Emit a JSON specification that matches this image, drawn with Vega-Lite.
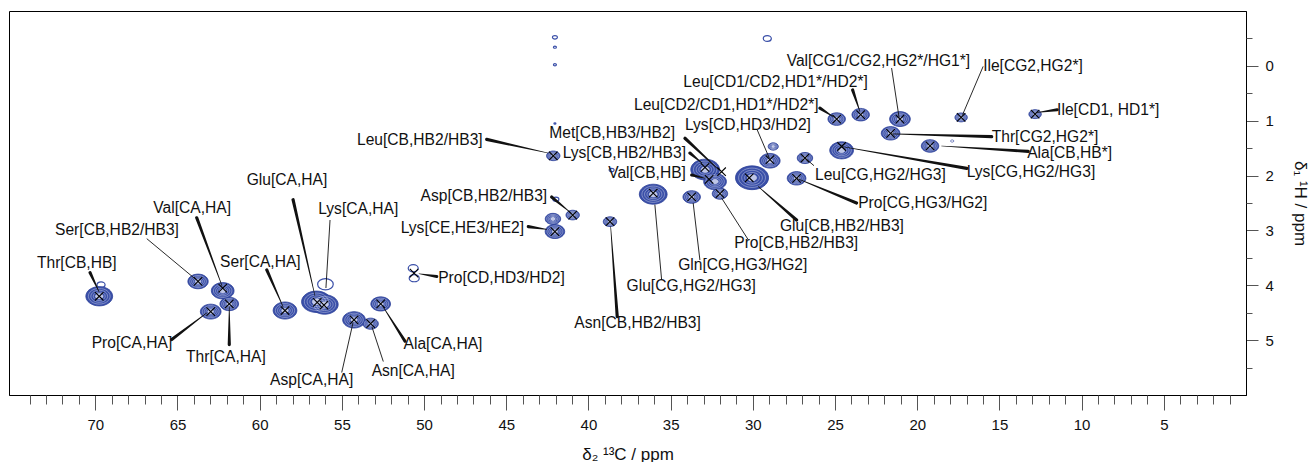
{
 "$schema": "https://vega.github.io/schema/vega-lite/v6.json",
 "width": 1237, "height": 384,
 "padding": {"left": 9, "top": 11, "right": 0, "bottom": 0},
 "background": "white",
 "config": {"view": {"stroke": "black", "strokeWidth": 1}, "font": "Liberation Sans"},
 "datasets": {
  "blobs": [
   {"c": 69.76, "h": 4.20, "w": 1.58}, {"c": 63.75, "h": 3.93, "w": 1.2}, {"c": 62.25, "h": 4.10, "w": 1.34},
   {"c": 62.98, "h": 4.48, "w": 1.22}, {"c": 61.85, "h": 4.34, "w": 1.1}, {"c": 58.46, "h": 4.46, "w": 1.4},
   {"c": 56.55, "h": 4.30, "w": 1.75}, {"c": 56.05, "h": 4.35, "w": 1.6}, {"c": 54.26, "h": 4.63, "w": 1.34},
   {"c": 53.25, "h": 4.70, "w": 0.91}, {"c": 52.64, "h": 4.34, "w": 1.16}, {"c": 42.14, "h": 1.64, "w": 0.79},
   {"c": 32.9, "h": 1.89, "w": 1.7}, {"c": 32.3, "h": 2.11, "w": 1.34}, {"c": 32.0, "h": 2.33, "w": 0.91},
   {"c": 33.72, "h": 2.39, "w": 1.03}, {"c": 36.06, "h": 2.34, "w": 1.64}, {"c": 40.96, "h": 2.72, "w": 0.79},
   {"c": 42.04, "h": 3.02, "w": 1.15}, {"c": 42.16, "h": 2.79, "w": 0.91}, {"c": 38.69, "h": 2.84, "w": 0.79},
   {"c": 28.96, "h": 1.73, "w": 1.2}, {"c": 28.76, "h": 1.47, "w": 0.6}, {"c": 30.05, "h": 2.04, "w": 1.95},
   {"c": 26.83, "h": 1.68, "w": 0.91}, {"c": 27.34, "h": 2.05, "w": 1.1}, {"c": 24.90, "h": 0.97, "w": 1.03},
   {"c": 23.44, "h": 0.89, "w": 1.03}, {"c": 21.05, "h": 0.97, "w": 1.22}, {"c": 21.62, "h": 1.23, "w": 1.1},
   {"c": 24.60, "h": 1.54, "w": 1.4}, {"c": 19.22, "h": 1.46, "w": 1.03}, {"c": 17.33, "h": 0.94, "w": 0.73},
   {"c": 12.83, "h": 0.88, "w": 0.73}, {"c": 17.87, "h": 1.37, "w": 0.18}
  ],
  "loops": [
   {"c": 69.65, "h": 3.99, "w": 0.49}, {"c": 56.0, "h": 3.98, "w": 0.95}, {"c": 50.66, "h": 3.69, "w": 0.61},
   {"c": 50.60, "h": 3.87, "w": 0.61}, {"c": 41.98, "h": 2.43, "w": 0.36}, {"c": 42.04, "h": -0.52, "w": 0.3},
   {"c": 42.04, "h": -0.34, "w": 0.18}, {"c": 42.04, "h": -0.02, "w": 0.18}, {"c": 42.04, "h": 1.05, "w": 0.12},
   {"c": 29.12, "h": -0.50, "w": 0.49}, {"c": 38.59, "h": 1.90, "w": 0.3}
  ],
  "picks": [
   {"c": 69.76, "h": 4.20}, {"c": 63.75, "h": 3.93}, {"c": 62.25, "h": 4.05}, {"c": 62.98, "h": 4.48},
   {"c": 61.85, "h": 4.34}, {"c": 58.46, "h": 4.46}, {"c": 56.50, "h": 4.31}, {"c": 56.09, "h": 4.36},
   {"c": 54.26, "h": 4.63}, {"c": 53.25, "h": 4.70}, {"c": 52.64, "h": 4.34}, {"c": 50.61, "h": 3.78},
   {"c": 42.14, "h": 1.64}, {"c": 31.90, "h": 1.93}, {"c": 32.91, "h": 1.85}, {"c": 32.66, "h": 2.07},
   {"c": 32.00, "h": 2.33}, {"c": 33.72, "h": 2.39}, {"c": 36.06, "h": 2.32}, {"c": 40.96, "h": 2.72},
   {"c": 42.04, "h": 3.02}, {"c": 38.69, "h": 2.84}, {"c": 28.96, "h": 1.71}, {"c": 30.22, "h": 2.04},
   {"c": 26.83, "h": 1.68}, {"c": 27.34, "h": 2.05}, {"c": 24.90, "h": 0.97}, {"c": 23.44, "h": 0.89},
   {"c": 21.05, "h": 0.97}, {"c": 21.62, "h": 1.23}, {"c": 24.60, "h": 1.47}, {"c": 19.22, "h": 1.46},
   {"c": 17.33, "h": 0.94}, {"c": 12.83, "h": 0.88}
  ],
  "labels": [
   {"label": "Thr[CB,HB]", "c": 73.55, "h": 3.59},
   {"label": "Ser[CB,HB2/HB3]", "c": 72.45, "h": 3.00},
   {"label": "Val[CA,HA]", "c": 66.47, "h": 2.59},
   {"label": "Glu[CA,HA]", "c": 60.79, "h": 2.08},
   {"label": "Lys[CA,HA]", "c": 56.44, "h": 2.61},
   {"label": "Ser[CA,HA]", "c": 62.41, "h": 3.57},
   {"label": "Pro[CA,HA]", "c": 70.22, "h": 5.05},
   {"label": "Thr[CA,HA]", "c": 64.48, "h": 5.30},
   {"label": "Asp[CA,HA]", "c": 59.37, "h": 5.72},
   {"label": "Asn[CA,HA]", "c": 53.19, "h": 5.57},
   {"label": "Ala[CA,HA]", "c": 51.25, "h": 5.07},
   {"label": "Pro[CD,HD3/HD2]", "c": 49.14, "h": 3.87},
   {"label": "Leu[CB,HB2/HB3]", "c": 54.08, "h": 1.35},
   {"label": "Met[CB,HB3/HB2]", "c": 42.38, "h": 1.23},
   {"label": "Lys[CB,HB2/HB3]", "c": 41.57, "h": 1.59},
   {"label": "Val[CB,HB]", "c": 38.80, "h": 1.96},
   {"label": "Asp[CB,HB2/HB3]", "c": 50.21, "h": 2.37},
   {"label": "Lys[CE,HE3/HE2]", "c": 51.42, "h": 2.96},
   {"label": "Asn[CB,HB2/HB3]", "c": 40.86, "h": 4.69},
   {"label": "Glu[CG,HG2/HG3]", "c": 37.68, "h": 4.02},
   {"label": "Gln[CG,HG3/HG2]", "c": 34.54, "h": 3.63},
   {"label": "Pro[CB,HB2/HB3]", "c": 31.13, "h": 3.23},
   {"label": "Glu[CB,HB2/HB3]", "c": 28.35, "h": 2.92},
   {"label": "Lys[CD,HD3/HD2]", "c": 34.13, "h": 1.08},
   {"label": "Leu[CD2/CD1,HD1*/HD2*]", "c": 37.23, "h": 0.71},
   {"label": "Leu[CD1/CD2,HD1*/HD2*]", "c": 34.23, "h": 0.30},
   {"label": "Val[CG1/CG2,HG2*/HG1*]", "c": 27.94, "h": -0.09},
   {"label": "Ile[CG2,HG2*]", "c": 15.99, "h": 0.01},
   {"label": "Ile[CD1, HD1*]", "c": 11.49, "h": 0.80},
   {"label": "Thr[CG2,HG2*]", "c": 15.47, "h": 1.29},
   {"label": "Ala[CB,HB*]", "c": 13.31, "h": 1.59},
   {"label": "Lys[CG,HG2/HG3]", "c": 16.99, "h": 1.93},
   {"label": "Leu[CG,HG2/HG3]", "c": 26.22, "h": 1.99},
   {"label": "Pro[CG,HG3/HG2]", "c": 23.59, "h": 2.50}
  ],
  "leaders": [
   {"id": "ThrCB", "kind": "wedge", "end": "label", "c": 70.32, "h": 3.77}, {"id": "ThrCB", "kind": "wedge", "end": "peak", "c": 69.77, "h": 4.12},
   {"id": "SerCB", "kind": "thin", "end": "label", "c": 66.87, "h": 3.15}, {"id": "SerCB", "kind": "thin", "end": "peak", "c": 63.94, "h": 3.88},
   {"id": "ValCA", "kind": "wedge", "end": "label", "c": 63.83, "h": 2.77}, {"id": "ValCA", "kind": "wedge", "end": "peak", "c": 62.29, "h": 4.01},
   {"id": "GluCA", "kind": "wedge", "end": "label", "c": 57.97, "h": 2.44}, {"id": "GluCA", "kind": "wedge", "end": "peak", "c": 56.64, "h": 4.19},
   {"id": "LysCA", "kind": "thin", "end": "label", "c": 55.72, "h": 2.81}, {"id": "LysCA", "kind": "thin", "end": "peak", "c": 55.97, "h": 4.05},
   {"id": "SerCA", "kind": "wedge", "end": "label", "c": 59.57, "h": 3.72}, {"id": "SerCA", "kind": "wedge", "end": "peak", "c": 58.58, "h": 4.39},
   {"id": "ProCA", "kind": "wedge", "end": "label", "c": 65.35, "h": 4.99}, {"id": "ProCA", "kind": "wedge", "end": "peak", "c": 63.21, "h": 4.50},
   {"id": "ThrCA", "kind": "wedge", "end": "label", "c": 61.85, "h": 5.08}, {"id": "ThrCA", "kind": "wedge", "end": "peak", "c": 61.85, "h": 4.39},
   {"id": "AspCA", "kind": "thin", "end": "label", "c": 55.01, "h": 5.59}, {"id": "AspCA", "kind": "thin", "end": "peak", "c": 54.32, "h": 4.68},
   {"id": "AsnCA", "kind": "thin", "end": "label", "c": 52.48, "h": 5.39}, {"id": "AsnCA", "kind": "thin", "end": "peak", "c": 53.17, "h": 4.76},
   {"id": "AlaCA", "kind": "wedge", "end": "label", "c": 51.16, "h": 5.02}, {"id": "AlaCA", "kind": "wedge", "end": "peak", "c": 52.50, "h": 4.39},
   {"id": "ProCD", "kind": "wedge", "end": "label", "c": 49.23, "h": 3.84}, {"id": "ProCD", "kind": "wedge", "end": "peak", "c": 50.31, "h": 3.79},
   {"id": "LeuCB", "kind": "wedge", "end": "label", "c": 46.19, "h": 1.34}, {"id": "LeuCB", "kind": "wedge", "end": "peak", "c": 42.46, "h": 1.59},
   {"id": "MetCB", "kind": "wedge", "end": "label", "c": 34.13, "h": 1.32}, {"id": "MetCB", "kind": "wedge", "end": "peak", "c": 32.06, "h": 1.90},
   {"id": "LysCB", "kind": "wedge", "end": "label", "c": 33.83, "h": 1.59}, {"id": "LysCB", "kind": "wedge", "end": "peak", "c": 33.10, "h": 1.77},
   {"id": "ValCB", "kind": "wedge", "end": "label", "c": 33.72, "h": 1.99}, {"id": "ValCB", "kind": "wedge", "end": "peak", "c": 32.91, "h": 2.05},
   {"id": "AspCB", "kind": "wedge", "end": "label", "c": 42.24, "h": 2.39}, {"id": "AspCB", "kind": "wedge", "end": "peak", "c": 41.07, "h": 2.68},
   {"id": "LysCE", "kind": "wedge", "end": "label", "c": 43.66, "h": 2.93}, {"id": "LysCE", "kind": "wedge", "end": "peak", "c": 42.54, "h": 2.98},
   {"id": "AsnCB", "kind": "wedge", "end": "label", "c": 38.25, "h": 4.57}, {"id": "AsnCB", "kind": "wedge", "end": "peak", "c": 38.65, "h": 2.93},
   {"id": "GluCG", "kind": "thin", "end": "label", "c": 35.55, "h": 3.90}, {"id": "GluCG", "kind": "thin", "end": "peak", "c": 35.96, "h": 2.53},
   {"id": "GlnCG", "kind": "thin", "end": "label", "c": 33.22, "h": 3.54}, {"id": "GlnCG", "kind": "thin", "end": "peak", "c": 33.63, "h": 2.50},
   {"id": "ProCB", "kind": "thin", "end": "label", "c": 30.28, "h": 3.17}, {"id": "ProCB", "kind": "thin", "end": "peak", "c": 31.90, "h": 2.41},
   {"id": "GluCB", "kind": "wedge", "end": "label", "c": 27.34, "h": 2.81}, {"id": "GluCB", "kind": "wedge", "end": "peak", "c": 29.67, "h": 2.20},
   {"id": "LysCD", "kind": "thin", "end": "label", "c": 29.73, "h": 1.17}, {"id": "LysCD", "kind": "thin", "end": "peak", "c": 29.00, "h": 1.68},
   {"id": "LeuCD2", "kind": "wedge", "end": "label", "c": 25.92, "h": 0.77}, {"id": "LeuCD2", "kind": "wedge", "end": "peak", "c": 25.11, "h": 0.93},
   {"id": "LeuCD1", "kind": "wedge", "end": "label", "c": 23.93, "h": 0.44}, {"id": "LeuCD1", "kind": "wedge", "end": "peak", "c": 23.49, "h": 0.83},
   {"id": "ValCG", "kind": "thin", "end": "label", "c": 21.56, "h": 0.04}, {"id": "ValCG", "kind": "thin", "end": "peak", "c": 21.10, "h": 0.95},
   {"id": "IleCG2", "kind": "thin", "end": "label", "c": 15.99, "h": 0.01}, {"id": "IleCG2", "kind": "thin", "end": "peak", "c": 17.24, "h": 0.89},
   {"id": "IleCD1", "kind": "wedge", "end": "label", "c": 11.49, "h": 0.80}, {"id": "IleCD1", "kind": "wedge", "end": "peak", "c": 12.71, "h": 0.85},
   {"id": "ThrCG2", "kind": "wedge", "end": "label", "c": 15.47, "h": 1.29}, {"id": "ThrCG2", "kind": "wedge", "end": "peak", "c": 21.56, "h": 1.24},
   {"id": "AlaCB", "kind": "wedge", "end": "label", "c": 13.25, "h": 1.56}, {"id": "AlaCB", "kind": "wedge", "end": "peak", "c": 18.52, "h": 1.46},
   {"id": "LysCG", "kind": "wedge", "end": "label", "c": 16.99, "h": 1.87}, {"id": "LysCG", "kind": "wedge", "end": "peak", "c": 24.60, "h": 1.47},
   {"id": "LeuCG", "kind": "thin", "end": "label", "c": 26.28, "h": 1.82}, {"id": "LeuCG", "kind": "thin", "end": "peak", "c": 26.83, "h": 1.68},
   {"id": "ProCG", "kind": "wedge", "end": "label", "c": 23.69, "h": 2.50}, {"id": "ProCG", "kind": "wedge", "end": "peak", "c": 27.34, "h": 2.05}
  ]
 },
 "encoding": {
  "x": {"field": "c", "type": "quantitative", "scale": {"domain": [0, 75.25], "reverse": true, "nice": false, "zero": false}, "axis": null},
  "y": {"field": "h", "type": "quantitative", "scale": {"domain": [-1, 6], "reverse": true, "nice": false, "zero": false}, "axis": null}
 },
 "layer": [
  {
   "data": {"name": "blobs"},
   "mark": {"type": "point", "shape": "M-1,0A1,0.72,0,1,0,1,0A1,0.72,0,1,0,-1,0Z", "filled": true, "fill": "#3a4fa8", "stroke": "#2b3f98", "strokeWidth": 0.8, "opacity": 1},
   "encoding": {
    "x": {"field": "c", "type": "quantitative", "scale": {"domain": [0, 75.25], "reverse": true, "nice": false, "zero": false},
      "axis": {"orient": "bottom", "values": [5, 10, 15, 20, 25, 30, 35, 40, 45, 50, 55, 60, 65, 70], "grid": false, "tickSize": 15, "tickColor": "#555", "domainColor": "black", "labelFontSize": 15, "labelPadding": 7, "labelColor": "#111", "labelFont": "Liberation Sans", "title": "δ₂ ¹³C / ppm", "titleFont": "Liberation Sans", "titleFontSize": 17, "titleFontWeight": "normal", "titleColor": "#111", "titlePadding": 14}},
    "y": {"field": "h", "type": "quantitative", "scale": {"domain": [-1, 6], "reverse": true, "nice": false, "zero": false},
      "axis": {"orient": "right", "values": [0, 1, 2, 3, 4, 5], "grid": false, "tickSize": 12, "tickColor": "#555", "domainColor": "black", "labelFontSize": 15, "labelPadding": 7, "labelColor": "#111", "labelFont": "Liberation Sans", "title": "δ₁ ¹H / ppm", "titleFont": "Liberation Sans", "titleFontSize": 17, "titleFontWeight": "normal", "titleColor": "#111", "titleAngle": 90, "titlePadding": 17}},
    "size": {"field": "w", "type": "quantitative", "scale": {"type": "pow", "exponent": 2, "domain": [0, 2], "range": [0, 1150]}, "legend": null}
   }
  },
  {
   "data": {"name": "blobs"},
   "mark": {"type": "point", "shape": "M-1,0A1,0.72,0,1,0,1,0A1,0.72,0,1,0,-1,0Z", "filled": false, "stroke": "white", "strokeWidth": 0.5, "opacity": 0.7},
   "encoding": {"size": {"field": "w", "type": "quantitative", "scale": {"type": "pow", "exponent": 2, "domain": [0, 2], "range": [0, 760]}, "legend": null}}
  },
  {
   "data": {"name": "blobs"},
   "mark": {"type": "point", "shape": "M-1,0A1,0.72,0,1,0,1,0A1,0.72,0,1,0,-1,0Z", "filled": false, "stroke": "white", "strokeWidth": 0.5, "opacity": 0.7},
   "encoding": {"size": {"field": "w", "type": "quantitative", "scale": {"type": "pow", "exponent": 2, "domain": [0, 2], "range": [0, 450]}, "legend": null}}
  },
  {
   "data": {"name": "blobs"},
   "mark": {"type": "point", "shape": "M-1,0A1,0.72,0,1,0,1,0A1,0.72,0,1,0,-1,0Z", "filled": false, "stroke": "white", "strokeWidth": 0.5, "opacity": 0.7},
   "encoding": {"size": {"field": "w", "type": "quantitative", "scale": {"type": "pow", "exponent": 2, "domain": [0, 2], "range": [0, 230]}, "legend": null}}
  },
  {
   "data": {"name": "blobs"},
   "mark": {"type": "point", "shape": "M-1,0A1,0.72,0,1,0,1,0A1,0.72,0,1,0,-1,0Z", "filled": true, "fill": "#d6dbf2", "stroke": "white", "strokeWidth": 0.5, "opacity": 0.85},
   "encoding": {"size": {"field": "w", "type": "quantitative", "scale": {"type": "pow", "exponent": 2, "domain": [0, 2], "range": [0, 90]}, "legend": null}}
  },
  {
   "data": {"name": "loops"},
   "mark": {"type": "point", "shape": "M-1,0A1,0.72,0,1,0,1,0A1,0.72,0,1,0,-1,0Z", "filled": false, "stroke": "#3a4fa8", "strokeWidth": 1.2, "opacity": 1},
   "encoding": {"size": {"field": "w", "type": "quantitative", "scale": {"type": "pow", "exponent": 2, "domain": [0, 2], "range": [0, 1081]}, "legend": null}}
  },
  {
   "data": {"name": "picks"},
   "mark": {"type": "point", "shape": "M-1,-1L1,1M-1,1L1,-1", "filled": false, "stroke": "black", "strokeWidth": 1.1, "size": 72, "opacity": 1},
   "encoding": {
    "x": {"field": "c", "type": "quantitative", "scale": {"domain": [0, 75.25], "reverse": true, "nice": false, "zero": false},
      "axis": {"orient": "bottom", "values": [1, 2, 3, 4, 6, 7, 8, 9, 11, 12, 13, 14, 16, 17, 18, 19, 21, 22, 23, 24, 26, 27, 28, 29, 31, 32, 33, 34, 36, 37, 38, 39, 41, 42, 43, 44, 46, 47, 48, 49, 51, 52, 53, 54, 56, 57, 58, 59, 61, 62, 63, 64, 66, 67, 68, 69, 71, 72, 73, 74], "grid": false, "tickSize": 9, "tickColor": "#555", "domain": false, "labels": false, "title": null}},
    "y": {"field": "h", "type": "quantitative", "scale": {"domain": [-1, 6], "reverse": true, "nice": false, "zero": false},
      "axis": {"orient": "right", "values": [-0.5, 0.5, 1.5, 2.5, 3.5, 4.5, 5.5], "grid": false, "tickSize": 6, "tickColor": "#555", "domain": false, "labels": false, "title": null}}
   }
  },
  {
   "data": {"name": "leaders"},
   "transform": [{"filter": "datum.kind === 'thin'"}],
   "mark": {"type": "line", "color": "#111", "strokeWidth": 0.9},
   "encoding": {"detail": {"field": "id", "type": "nominal"}}
  },
  {
   "data": {"name": "leaders"},
   "transform": [{"filter": "datum.kind === 'wedge'"}],
   "mark": {"type": "trail", "color": "#111"},
   "encoding": {
    "detail": {"field": "id", "type": "nominal"},
    "size": {"field": "end", "type": "ordinal", "scale": {"domain": ["label", "peak"], "range": [3.2, 0.6]}, "legend": null}
   }
  },
  {
   "data": {"name": "labels"},
   "mark": {"type": "text", "align": "left", "baseline": "middle", "font": "Liberation Sans", "fontSize": 15.6, "color": "#111"},
   "encoding": {"text": {"field": "label", "type": "nominal"}}
  }
 ],
 "resolve": {"scale": {"size": "independent"}, "axis": {"x": "independent", "y": "independent"}}
}
